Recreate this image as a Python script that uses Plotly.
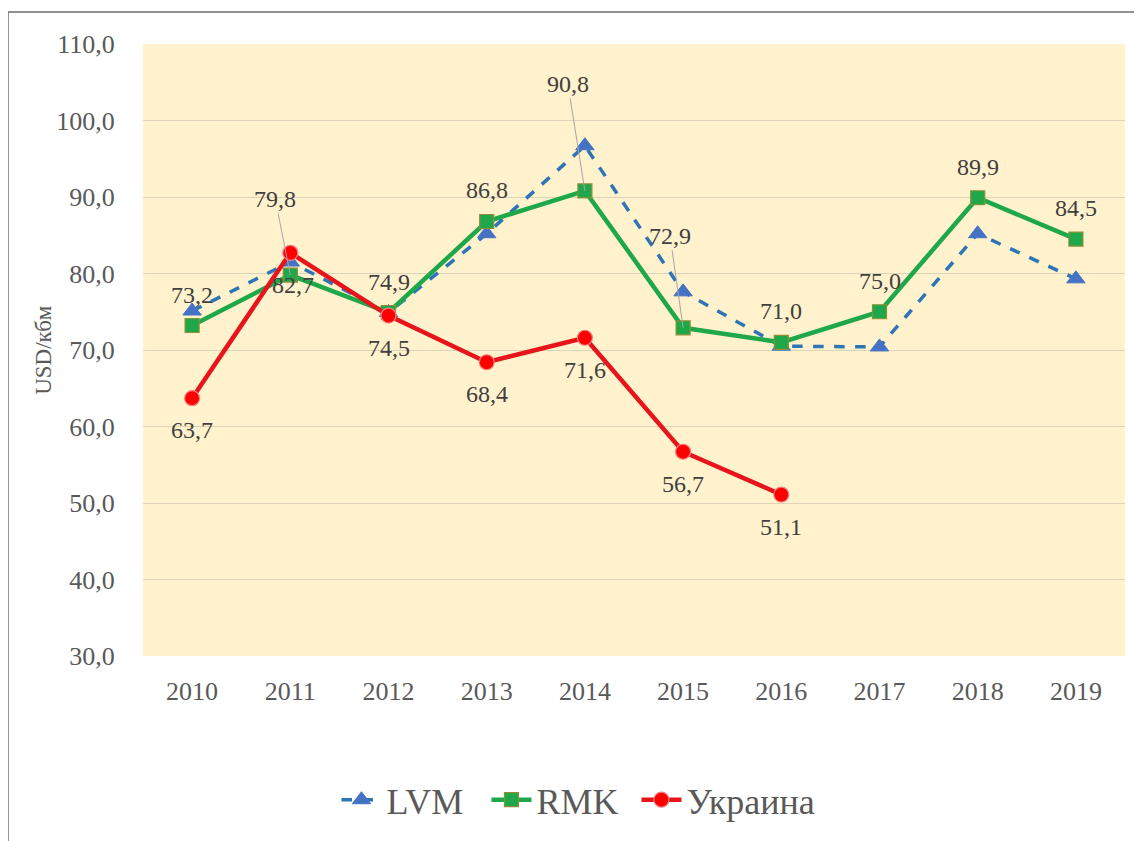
import plotly.graph_objects as go

years = ["2010", "2011", "2012", "2013", "2014", "2015", "2016", "2017", "2018", "2019"]
lvm = [75.1, 81.5, 74.9, 85.2, 96.7, 77.6, 70.5, 70.4, 85.2, 79.3]
rmk = [73.2, 79.8, 74.9, 86.8, 90.8, 72.9, 71.0, 75.0, 89.9, 84.5]
ukraine = [63.7, 82.7, 74.5, 68.4, 71.6, 56.7, 51.1, None, None, None]

series_names = ["LVM", "RMK", "Украина"]
y_title = "USD/кбм"

FONT = "Liberation Serif"
GRAY = "#595959"
LABEL = "#404040"

def fmt(v):
    return f"{v:.1f}".replace(".", ",")

fig = go.Figure()
fig.add_trace(go.Scatter(
    x=years, y=lvm, name=series_names[0], mode="lines+markers",
    line=dict(color="#2E75B6", width=3.5, dash="dash"),
    marker=dict(symbol="triangle-up", size=16, color="#4472C4",
                line=dict(color="#4472C4", width=1)),
))
fig.add_trace(go.Scatter(
    x=years, y=rmk, name=series_names[1], mode="lines+markers",
    line=dict(color="#1EA84A", width=4.5),
    marker=dict(symbol="square", size=14, color="#1EA84A",
                line=dict(color="#8E8E3A", width=1.2)),
))
fig.add_trace(go.Scatter(
    x=years, y=ukraine, name=series_names[2], mode="lines+markers",
    line=dict(color="#E8141B", width=4.5),
    marker=dict(symbol="circle", size=15, color="#FF0000",
                line=dict(color="#F08080", width=1.2)),
    legendwidth=140,
))

annotations = []
# RMK labels: above the point, or with a leader line (ax, ay in px)
rmk_style = {
    "2011": (-15, -76),
    "2014": (-17, -107),
    "2015": (-13, -92),
}
for i, (x, v) in enumerate(zip(years, rmk)):
    st = rmk_style.get(x)
    if st:
        annotations.append(dict(
            x=i, y=v, text=fmt(v), showarrow=True, arrowhead=0,
            arrowwidth=1, arrowcolor="#A6A6A6", ax=st[0], ay=st[1],
            standoff=0, startstandoff=0,
            font=dict(family=FONT, size=24, color=LABEL)))
    else:
        annotations.append(dict(
            x=i, y=v, text=fmt(v), showarrow=False, yshift=31,
            font=dict(family=FONT, size=24, color=LABEL)))

for i, (x, v) in enumerate(zip(years, ukraine)):
    if v is None:
        continue
    annotations.append(dict(
        x=i, y=v, text=fmt(v), showarrow=False, yshift=-32,
        xshift=3 if x == "2011" else 0,
        font=dict(family=FONT, size=24, color=LABEL)))

annotations.append(dict(
    xref="paper", yref="paper", x=-0.102, y=0.5, text=y_title,
    textangle=-90, showarrow=False, xanchor="center", yanchor="middle",
    font=dict(family=FONT, size=23, color=GRAY)))

fig.update_layout(
    width=1142, height=841,
    margin=dict(l=135, r=25, t=36, b=193),
    paper_bgcolor="white",
    plot_bgcolor="#FFF2CC",
    separators=", ",
    font=dict(family=FONT, color=GRAY),
    showlegend=True,
    legend=dict(orientation="h", x=0.197, xanchor="left", y=-0.235,
                yanchor="middle", font=dict(family=FONT, size=36, color=GRAY),
                itemwidth=40, entrywidth=95, bgcolor="rgba(0,0,0,0)"),
    annotations=annotations,
    shapes=[dict(type="rect", xref="paper", yref="paper",
                 x0=-0.1375, x1=1.05, y0=-0.35, y1=1.0523,
                 line=dict(color="#6E6E6E", width=1.5), layer="below")],
)
fig.update_xaxes(
    type="category", range=[-0.5, 9.5], showgrid=False, zeroline=False,
    showline=False, ticks="outside", ticklen=12, tickcolor="rgba(0,0,0,0)",
    tickfont=dict(family=FONT, size=26, color=GRAY))
fig.update_yaxes(
    range=[30, 110], dtick=10, tickformat=".1f", showgrid=True,
    gridcolor="#DDD3B8", gridwidth=1, zeroline=False, showline=False,
    ticks="outside", ticklen=22, tickcolor="rgba(0,0,0,0)",
    tickfont=dict(family=FONT, size=26, color=GRAY))

fig.write_html("out.html")
